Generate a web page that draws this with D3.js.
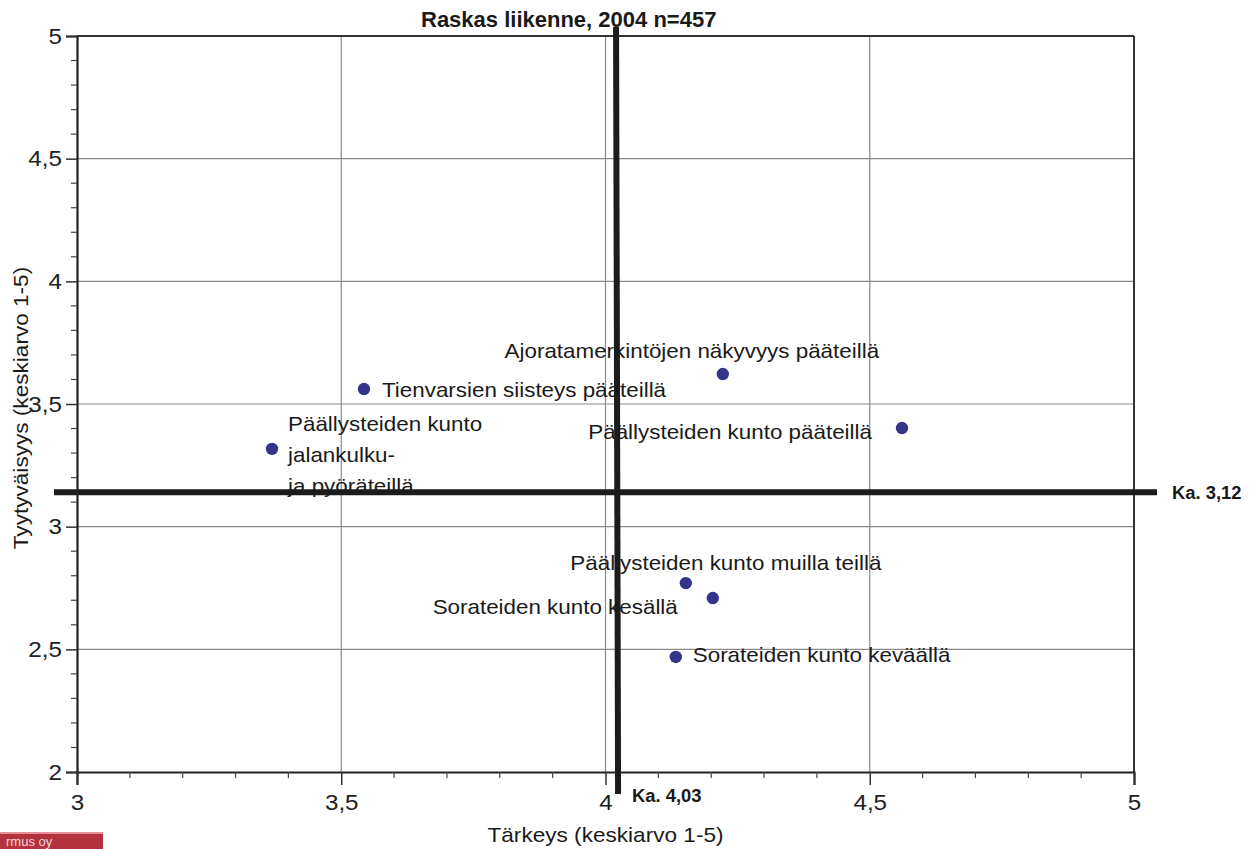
<!DOCTYPE html>
<html>
<head>
<meta charset="utf-8">
<script src="https://cdn.jsdelivr.net/npm/d3@7"></script>
<style>
html,body{margin:0;padding:0;background:#fff;}
svg{display:block;}
</style>
</head>
<body>
<svg id="chart" width="1257" height="849"></svg>
<script>
// ---- Data ----
const labels = [
  "Tienvarsien siisteys pääteillä",
  "Päällysteiden kunto|jalankulku-|ja pyöräteillä",
  "Ajoratamerkintöjen näkyvyys pääteillä",
  "Päällysteiden kunto pääteillä",
  "Päällysteiden kunto muilla teillä",
  "Sorateiden kunto kesällä",
  "Sorateiden kunto keväällä"
];
const importance = [3.543, 3.369, 4.222, 4.561, 4.152, 4.203, 4.133];   // Tärkeys
const satisfaction = [3.561, 3.317, 3.622, 3.402, 2.770, 2.709, 2.469]; // Tyytyväisyys
const xTicks = [3, 3.5, 4, 4.5, 5];
const yTicks = [2, 2.5, 3, 3.5, 4, 4.5, 5];
const meanImportance = 4.02;
const meanSatisfaction = 3.14;
const meanImportanceLabel = "Ka. 4,03";
const meanSatisfactionLabel = "Ka. 3,12";
const titleText = "Raskas liikenne, 2004 n=457";
const xTitle = "Tärkeys (keskiarvo 1-5)";
const yTitle = "Tyytyväisyys (keskiarvo 1-5)";

// ---- Layout (label offsets relative to points) ----
const labelLayout = [
  {dx: 18, dy: 8, anchor: "start"},
  {dx: 16, dy: -18, anchor: "start"},
  {dx: -31, dy: -16, anchor: "middle"},
  {dx: -30, dy: 11, anchor: "end"},
  {dx: 40, dy: -13, anchor: "middle"},
  {dx: -35, dy: 16, anchor: "end"},
  {dx: 17, dy: 5, anchor: "start"}
];

const FONT = "'Liberation Sans', Arial, Helvetica, sans-serif";
const svg = d3.select("#chart");
const pLeft = 77, pRight = 1134, pTop = 36, pBottom = 772;

const x = d3.scaleLinear().domain([3, 5]).range([pLeft, pRight]);
const y = d3.scaleLinear().domain([2, 5]).range([pBottom, pTop]);
const fmt = d => String(d).replace(".", ",");

function txt(g, px, py, s, o) {
  o = o || {};
  return g.append("text")
    .attr("transform", `translate(${px},${py})` + (o.rotate ? ` rotate(${o.rotate})` : "") + ` scale(${o.sx || 1},1)`)
    .attr("text-anchor", o.anchor || "start")
    .attr("font-family", FONT)
    .attr("font-size", o.size || 20)
    .attr("font-weight", o.weight || "normal")
    .attr("fill", o.fill || "#1a1a1a")
    .text(s);
}

// gridlines
const grid = svg.append("g");
grid.selectAll("line.gx").data(xTicks.filter(d => d > 3 && d < 5)).join("line")
  .attr("class", "gx")
  .attr("x1", d => x(d)).attr("x2", d => x(d)).attr("y1", pTop).attr("y2", pBottom)
  .attr("stroke", "#8a8a8a").attr("stroke-width", 1.2);
grid.selectAll("line.gy").data(yTicks.filter(d => d > 2 && d < 5)).join("line")
  .attr("class", "gy")
  .attr("x1", pLeft).attr("x2", pRight).attr("y1", d => y(d)).attr("y2", d => y(d))
  .attr("stroke", "#8a8a8a").attr("stroke-width", 1.2);

// frame top/right
svg.append("line").attr("x1", pLeft).attr("x2", pRight).attr("y1", pTop).attr("y2", pTop)
  .attr("stroke", "#333").attr("stroke-width", 2);
svg.append("line").attr("x1", pRight).attr("x2", pRight).attr("y1", pTop).attr("y2", pBottom)
  .attr("stroke", "#333").attr("stroke-width", 2);

// axes
const xMinor = d3.range(30, 51).map(d => d / 10).filter(d => !xTicks.includes(d));
const yMinor = d3.range(20, 51).map(d => d / 10).filter(d => !yTicks.includes(d));

const xAxis = svg.append("g").attr("transform", `translate(0,${pBottom})`)
  .call(d3.axisBottom(x).tickValues(xTicks).tickSize(13).tickPadding(9).tickFormat(fmt));
xAxis.select(".domain").attr("stroke", "#222").attr("stroke-width", 2.2);
xAxis.selectAll(".tick line").attr("stroke", "#333").attr("stroke-width", 1.5);
xAxis.selectAll(".tick text").attr("font-family", FONT).attr("font-size", 22).attr("fill", "#222")
  .attr("transform", "scale(1.1,1)");
svg.append("g").attr("transform", `translate(0,${pBottom})`)
  .selectAll("line").data(xMinor).join("line")
  .attr("x1", d => x(d)).attr("x2", d => x(d)).attr("y1", 0).attr("y2", 6)
  .attr("stroke", "#444").attr("stroke-width", 1.2);

const yAxis = svg.append("g").attr("transform", `translate(${pLeft},0)`)
  .call(d3.axisLeft(y).tickValues(yTicks).tickSize(11).tickPadding(5).tickFormat(fmt));
yAxis.select(".domain").attr("stroke", "#222").attr("stroke-width", 2.2);
yAxis.selectAll(".tick line").attr("stroke", "#333").attr("stroke-width", 1.5);
yAxis.selectAll(".tick text").attr("font-family", FONT).attr("font-size", 22).attr("fill", "#222")
  .attr("x", 0).attr("transform", "translate(-15,0) scale(1.1,1)");
svg.append("g").attr("transform", `translate(${pLeft},0)`)
  .selectAll("line").data(yMinor).join("line")
  .attr("x1", -6).attr("x2", 0).attr("y1", d => y(d)).attr("y2", d => y(d))
  .attr("stroke", "#444").attr("stroke-width", 1.2);

// mean lines
svg.append("line")
  .attr("x1", x(meanImportance)).attr("x2", x(meanImportance) + 2)
  .attr("y1", y(5) - 9).attr("y2", y(2) + 22)
  .attr("stroke", "#1c1c1c").attr("stroke-width", 6);
svg.append("line")
  .attr("x1", pLeft - 23).attr("x2", pRight + 23)
  .attr("y1", y(meanSatisfaction)).attr("y2", y(meanSatisfaction))
  .attr("stroke", "#1c1c1c").attr("stroke-width", 6);

txt(svg, x(meanImportance) + 16, y(2) + 30, meanImportanceLabel, {size: 17.5, weight: "bold", sx: 1.05});
txt(svg, pRight + 38, y(meanSatisfaction) + 7, meanSatisfactionLabel, {size: 17.5, weight: "bold", sx: 1.05});

// points
svg.append("g").selectAll("circle").data(labels).join("circle")
  .attr("cx", (d, i) => x(importance[i]))
  .attr("cy", (d, i) => y(satisfaction[i]))
  .attr("r", 6.2)
  .attr("fill", "#34358a");

// labels
labels.forEach((lab, i) => {
  const L = labelLayout[i];
  const px = x(importance[i]) + L.dx, py = y(satisfaction[i]) + L.dy;
  lab.split("|").forEach((line, k) => {
    txt(svg, px, py + k * 31, line, {size: 20, anchor: L.anchor, sx: 1.12});
  });
});

// titles
txt(svg, 421, 27, titleText, {size: 22, weight: "bold"});
txt(svg, (pLeft + pRight) / 2, 842, xTitle, {size: 20, anchor: "middle", sx: 1.13});
txt(svg, 28, (pTop + pBottom) / 2 + 4, yTitle, {size: 20, anchor: "middle", rotate: -90, sx: 1.13});

// cropped logo at bottom-left
svg.append("rect").attr("x", 0).attr("y", 832).attr("width", 103).attr("height", 17).attr("fill", "#b5333f");
svg.append("rect").attr("x", 0).attr("y", 832).attr("width", 103).attr("height", 2).attr("fill", "#e8909a");
txt(svg, 6, 846, "rmus oy", {size: 13, fill: "#f3d6da"});
</script>
</body>
</html>
